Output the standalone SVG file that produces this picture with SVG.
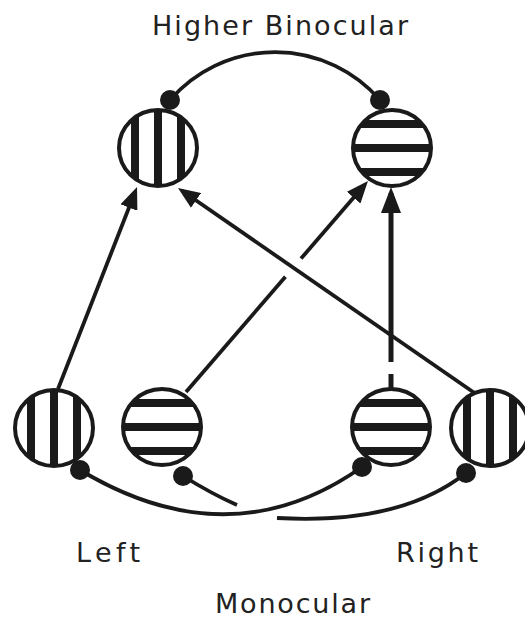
<svg xmlns="http://www.w3.org/2000/svg" width="525" height="620" viewBox="0 0 525 620">
<style>
.ring{fill:none;stroke:#1a1a1a;stroke-width:4}
.stripe{fill:#1a1a1a}
.conn{fill:none;stroke:#1a1a1a;stroke-width:3.8;stroke-linecap:butt}
.thick{stroke-width:5}
.dot{fill:#1a1a1a}
.lbl{font-family:"DejaVu Sans","Liberation Sans",Arial,sans-serif;font-size:27px;fill:#222}
</style>
<defs>
<clipPath id="cc"><ellipse cx="0" cy="0" rx="39" ry="38"/></clipPath>
<g id="vcirc">
<ellipse cx="0" cy="0" rx="39" ry="38" fill="#fff"/>
<g clip-path="url(#cc)" class="stripe">
<rect x="-27" y="-40" width="8" height="80"/>
<rect x="-4" y="-40" width="8" height="80"/>
<rect x="19" y="-40" width="8" height="80"/>
</g>
<ellipse class="ring" cx="0" cy="0" rx="39" ry="38"/>
</g>
<g id="hcirc">
<ellipse cx="0" cy="0" rx="39" ry="38" fill="#fff"/>
<g clip-path="url(#cc)" class="stripe">
<rect x="-41" y="-28" width="82" height="8"/>
<rect x="-41" y="-4" width="82" height="8"/>
<rect x="-41" y="20" width="82" height="8"/>
</g>
<ellipse class="ring" cx="0" cy="0" rx="39" ry="38"/>
</g>
<marker id="ah" markerUnits="userSpaceOnUse" markerWidth="24" markerHeight="18" refX="17" refY="9" orient="auto">
<path d="M0,0 L22,9 L0,18 z" fill="#1a1a1a"/>
</marker>
<marker id="ahb" markerUnits="userSpaceOnUse" markerWidth="28" markerHeight="20" refX="20" refY="10" orient="auto">
<path d="M0,0 L26,10 L0,20 z" fill="#1a1a1a"/>
</marker>
</defs>

<g id="connectors">
<path class="conn" d="M170,100 A139,139 0 0 1 380,100"/>
<path class="conn" d="M80,470 Q230,560 362,467"/>
<path class="conn" d="M183,476 Q212,494 237,505"/>
<path class="conn" d="M277,518 Q400,525 466,473"/>
<path class="conn" d="M58,389 L135.2,191.7" marker-end="url(#ah)"/>
<path class="conn" d="M186,392 L285.4,276.8"/>
<path class="conn" d="M301,258.6 L364.7,184.8" marker-end="url(#ah)"/>
<path class="conn thick" d="M391,388 L391,374"/>
<path class="conn thick" d="M391,362 L391,193" marker-end="url(#ahb)"/>
<path class="conn" d="M476,394 L182.1,190.8" marker-end="url(#ah)"/>
</g>

<g id="dots">
<circle class="dot" cx="170" cy="100" r="10"/>
<circle class="dot" cx="380" cy="100" r="10"/>
<circle class="dot" cx="80" cy="470" r="10"/>
<circle class="dot" cx="183" cy="476" r="10"/>
<circle class="dot" cx="362" cy="467" r="10"/>
<circle class="dot" cx="466" cy="473" r="10"/>
</g>

<g id="bin-vertical"><use href="#vcirc" transform="translate(158,148)"/></g>
<g id="bin-horizontal"><use href="#hcirc" transform="translate(392,148)"/></g>
<g id="left-vertical"><use href="#vcirc" transform="translate(54,428)"/></g>
<g id="left-horizontal"><use href="#hcirc" transform="translate(162,427)"/></g>
<g id="right-horizontal"><use href="#hcirc" transform="translate(391,427)"/></g>
<g id="right-vertical"><use href="#vcirc" transform="translate(490,428)"/></g>

<g id="labels">
<text class="lbl" x="152" y="35" textLength="256" lengthAdjust="spacing">Higher Binocular</text>
<text class="lbl" x="76" y="562" textLength="64" lengthAdjust="spacing">Left</text>
<text class="lbl" x="396" y="562" textLength="82" lengthAdjust="spacing">Right</text>
<text class="lbl" x="215" y="613" textLength="155" lengthAdjust="spacing">Monocular</text>
</g>
</svg>
